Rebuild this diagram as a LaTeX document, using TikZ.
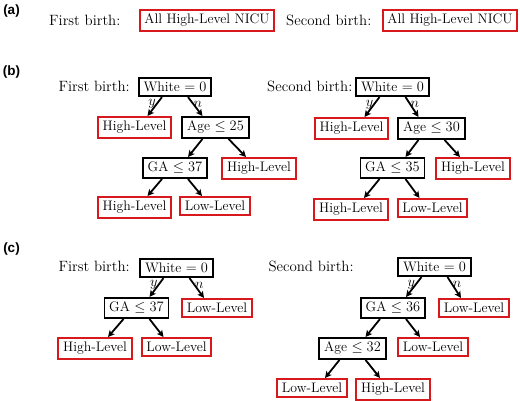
\documentclass[tikz,border=0pt]{standalone}
\usepackage{fontspec}
\newfontfamily\labfont{Liberation Sans}
\usetikzlibrary{arrows.meta}
\definecolor{boxred}{HTML}{D7191C}
\tikzset{
  tbox/.style={draw=black, line width=1.8pt, inner xsep=4.8pt, inner ysep=4.2pt,
    font=\fontsize{13.8}{16}\selectfont, anchor=north},
  leaf/.style={tbox, draw=boxred},
  lab/.style={font=\fontsize{14.9}{17}\selectfont, anchor=base west, inner sep=0pt},
  panel/.style={font=\labfont\bfseries\fontsize{13.5}{15}\selectfont, inner sep=0pt},
  arr/.style={line width=1.8pt, -{Stealth[length=6.5pt,width=6.5pt,inset=1.5pt]}},
  el/.style={font=\fontsize{13.8}{16}\selectfont, inner sep=0pt},
}
\newcommand{\yes}[2]{\draw[arr] ([xshift=-13pt]#1.south) -- node[el,pos=0.37,xshift=-4.5pt]{$y$} ([xshift=13pt]#2.north);}
\newcommand{\no}[2]{\draw[arr] ([xshift=13pt]#1.south) -- node[el,pos=0.37,xshift=4.5pt]{$n$} ([xshift=-13pt]#2.north);}
\newcommand{\lft}[2]{\draw[arr] ([xshift=-13pt]#1.south) -- ([xshift=13pt]#2.north);}
\newcommand{\rgt}[2]{\draw[arr] ([xshift=13pt]#1.south) -- ([xshift=-13pt]#2.north);}
\begin{document}
\begin{tikzpicture}[x=1pt,y=-1pt]
\useasboundingbox (0,0) rectangle (520,401);
% panel labels
\node[panel] (pa) at (11.5,11) {(a)};
\node[panel] (pb) at (11.5,72.5) {(b)};
\node[panel] (pc) at (11.5,249) {(c)};
% (a)
\node[lab] (fa) at (49,26) {First birth:};
\node[leaf] (a1) at (207,9) {All High-Level NICU};
\node[lab] (sa) at (286,26) {Second birth:};
\node[leaf] (a2) at (450,9) {All High-Level NICU};
% (b) first
\node[lab] (fb) at (58.3,91.7) {First birth:};
\node[tbox] (W1) at (175,77) {White $=0$};
\node[leaf] (HL1) at (134.5,116) {High-Level};
\node[tbox] (A1) at (215.5,116) {Age $\leq 25$};
\node[tbox] (G1) at (175,157) {GA $\leq 37$};
\node[leaf] (HL2) at (259,157) {High-Level};
\node[leaf] (HL3) at (134.5,196) {High-Level};
\node[leaf] (LL1) at (215,196) {Low-Level};
\yes{W1}{HL1}\no{W1}{A1}
\lft{A1}{G1}\rgt{A1}{HL2}
\lft{G1}{HL3}\rgt{G1}{LL1}
% (b) second
\node[lab] (sb) at (267,91.7) {Second birth:};
\node[tbox] (W2) at (392.5,77) {White $=0$};
\node[leaf] (HL4) at (351.5,117) {High-Level};
\node[tbox] (A2) at (431.5,117) {Age $\leq 30$};
\node[tbox] (G2) at (392.5,157) {GA $\leq 35$};
\node[leaf] (HL5) at (473,157) {High-Level};
\node[leaf] (HL6) at (351,198) {High-Level};
\node[leaf] (LL2) at (432.5,198) {Low-Level};
\yes{W2}{HL4}\no{W2}{A2}
\lft{A2}{G2}\rgt{A2}{HL5}
\lft{G2}{HL6}\rgt{G2}{LL2}
% (c) first
\node[lab] (fc) at (58.3,272) {First birth:};
\node[tbox] (W3) at (176.5,258) {White $=0$};
\node[tbox] (G3) at (136.5,297) {GA $\leq 37$};
\node[leaf] (LL3) at (217,298) {Low-Level};
\node[leaf] (HL7) at (95,337) {High-Level};
\node[leaf] (LL4) at (176.5,337) {Low-Level};
\yes{W3}{G3}\no{W3}{LL3}
\lft{G3}{HL7}\rgt{G3}{LL4}
% (c) second
\node[lab] (sc) at (268.3,272) {Second birth:};
\node[tbox] (W4) at (434.5,257) {White $=0$};
\node[tbox] (G4) at (393,297) {GA $\leq 36$};
\node[leaf] (LL5) at (474,298) {Low-Level};
\node[tbox] (A3) at (352.5,337) {Age $\leq 32$};
\node[leaf] (LL6) at (433,337) {Low-Level};
\node[leaf] (LL7) at (312,378) {Low-Level};
\node[leaf] (HL8) at (393,378) {High-Level};
\yes{W4}{G4}\no{W4}{LL5}
\lft{G4}{A3}\rgt{G4}{LL6}
\lft{A3}{LL7}\rgt{A3}{HL8}
\end{tikzpicture}
\end{document}
